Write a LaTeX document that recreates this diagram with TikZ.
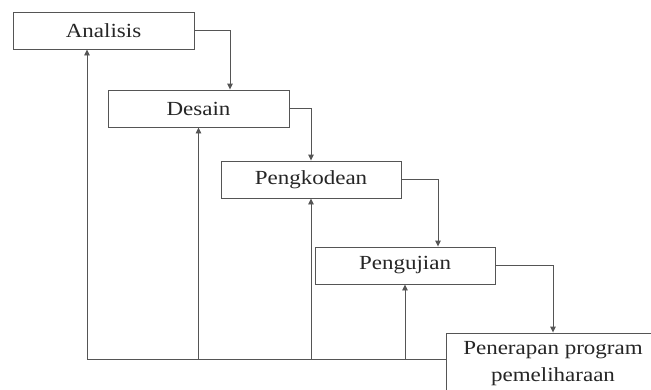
\documentclass[tikz,border=0pt]{standalone}
\usepackage{fontspec}
\setmainfont{Liberation Serif}[FakeStretch=1.15]
\usetikzlibrary{arrows.meta}
\definecolor{linegray}{HTML}{555555}
\tikzset{
  stage/.style={draw=linegray, line width=0.9pt, fill=white, minimum height=37pt, inner sep=0pt,
    font=\fontsize{20}{27}\selectfont, text=black!85, align=center},
  flow/.style={draw=linegray, line width=0.9pt, -{Triangle[length=6pt,width=5.5pt]}},
}
\begin{document}
\begin{tikzpicture}[x=1pt,y=-1pt]
\useasboundingbox (0,0) rectangle (651,389);
\node[stage, minimum width=181pt] (A) at (103.5,30.5) {Analisis};
\node[stage, minimum width=181pt] (D) at (198.5,108.5) {Desain};
\node[stage, minimum width=180pt] (P) at (311,179.5) {Pengkodean};
\node[stage, minimum width=180pt] (U) at (405,265.5) {Pengujian};
\node[stage, minimum width=214pt, minimum height=62pt] (E) at (553,364) {Penerapan program\\pemeliharaan};
% forward flow
\draw[flow] (A.east) -| ([xshift=31.5pt]D.north);
\draw[flow] (D.east) -| (P.north);
\draw[flow] (P.east) -| ([xshift=33pt]U.north);
\draw[flow] (U.east) -| (E.north);
% feedback
\coordinate (fb) at ([yshift=5pt]E.west);
\draw[flow] (fb) -| ([xshift=-16.5pt]A.south);
\draw[flow] (D.south |- fb) -- (D.south);
\draw[flow] (P.south |- fb) -- (P.south);
\draw[flow] (U.south |- fb) -- (U.south);
\end{tikzpicture}
\end{document}
